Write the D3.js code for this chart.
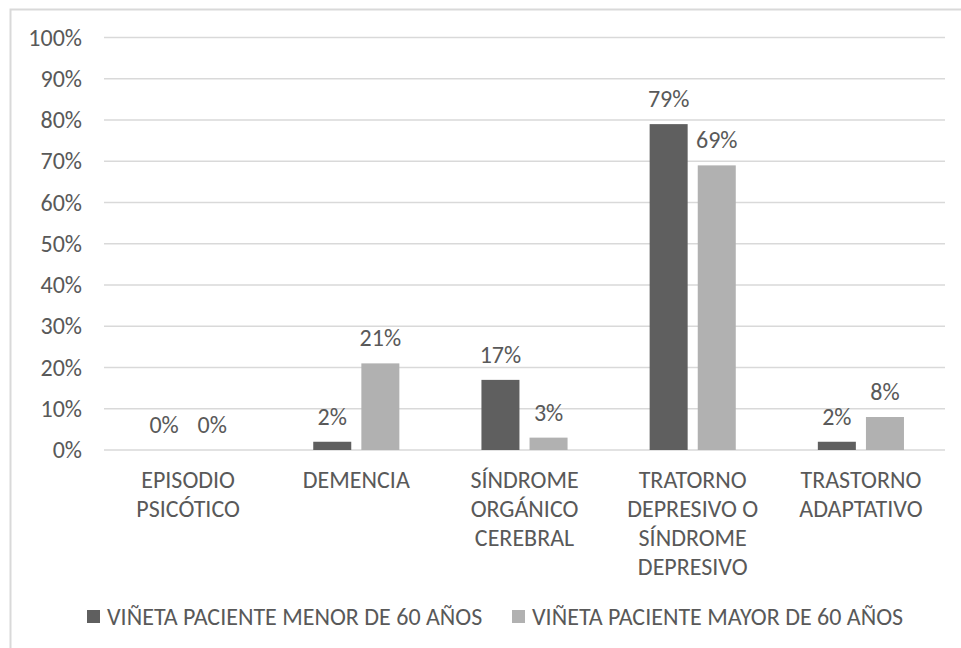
<!DOCTYPE html>
<html>
<head>
<meta charset="utf-8">
<script src="https://cdn.jsdelivr.net/npm/d3@7"></script>
<style>
  body { margin: 0; background: #fff; }
  svg text { font-family: Carlito, "Open Sans", "Noto Sans", sans-serif; fill: #595959; }
</style>
</head>
<body>
<svg id="chart" width="961" height="648"></svg>
<script>
// categories and series
const categories = [
  ["EPISODIO", "PSICÓTICO"],
  ["DEMENCIA"],
  ["SÍNDROME", "ORGÁNICO", "CEREBRAL"],
  ["TRATORNO", "DEPRESIVO O", "SÍNDROME", "DEPRESIVO"],
  ["TRASTORNO", "ADAPTATIVO"]
];
const seriesNames = ["VIÑETA PACIENTE MENOR DE 60 AÑOS", "VIÑETA PACIENTE MAYOR DE 60 AÑOS"];
const menor60 = [0, 2, 17, 79, 2];
const mayor60 = [0, 21, 3, 69, 8];
const yTicks = [0, 10, 20, 30, 40, 50, 60, 70, 80, 90, 100];
const colors = ["#5f5f5f", "#b1b1b1"];

const svg = d3.select("#chart");
const fontSize = 24;

// outer border of the chart box
svg.append("rect")
  .attr("x", 10.5).attr("y", 9.5)
  .attr("width", 970).attr("height", 660)
  .attr("fill", "none")
  .attr("stroke", "#d9d9d9")
  .attr("stroke-width", 2);

const plotLeft = 104, plotRight = 945, plotTop = 37.5, plotBottom = 450;

const x = d3.scaleBand()
  .domain(d3.range(categories.length))
  .range([plotLeft, plotRight]);

const y = d3.scaleLinear()
  .domain([0, 100])
  .range([plotBottom, plotTop]);

// gridlines
svg.append("g")
  .selectAll("line")
  .data(yTicks)
  .enter()
  .append("line")
  .attr("x1", plotLeft).attr("x2", plotRight)
  .attr("y1", d => y(d)).attr("y2", d => y(d))
  .attr("stroke", "#d9d9d9")
  .attr("stroke-width", 1.5);

// y axis labels
const yAxis = d3.axisLeft(y)
  .tickValues(yTicks)
  .tickFormat(d => d + "%")
  .tickSize(0)
  .tickPadding(22);
const yg = svg.append("g")
  .attr("transform", "translate(" + plotLeft + ",0)")
  .call(yAxis);
yg.select(".domain").remove();
yg.attr("font-family", null).attr("font-size", null);
yg.selectAll("text")
  .attr("font-size", fontSize);

// bars
const barW = x.bandwidth() * 0.226;
const barGap = x.bandwidth() * 0.06;
const series = [menor60, mayor60];
series.forEach(function(vals, s) {
  const offset = s === 0 ? -(barGap / 2 + barW) : barGap / 2;
  const g = svg.append("g");
  g.selectAll("rect")
    .data(vals)
    .enter()
    .append("rect")
    .attr("x", (d, i) => x(i) + x.bandwidth() / 2 + offset)
    .attr("y", d => y(d))
    .attr("width", barW)
    .attr("height", d => plotBottom - y(d))
    .attr("fill", colors[s]);
  g.selectAll("text")
    .data(vals)
    .enter()
    .append("text")
    .attr("x", (d, i) => x(i) + x.bandwidth() / 2 + offset + barW / 2)
    .attr("y", d => y(d) - 17)
    .attr("text-anchor", "middle")
    .attr("font-size", fontSize)
    .text(d => d + "%");
});

// category labels
const cat = svg.append("g")
  .selectAll("text")
  .data(categories)
  .enter()
  .append("text")
  .attr("text-anchor", "middle")
  .attr("font-size", fontSize)
  .attr("transform", (d, i) => "translate(" + (x(i) + x.bandwidth() / 2) + ",488)");
cat.selectAll("tspan")
  .data(d => d)
  .enter()
  .append("tspan")
  .attr("x", 0)
  .attr("y", (d, i) => i * 29)
  .text(d => d);

// legend
const legendX = [87, 512];
const leg = svg.append("g")
  .selectAll("g")
  .data(seriesNames)
  .enter()
  .append("g")
  .attr("transform", (d, i) => "translate(" + legendX[i] + ",617)");
leg.append("rect")
  .attr("x", 0).attr("y", -7)
  .attr("width", 13).attr("height", 13)
  .attr("fill", (d, i) => colors[i]);
leg.append("text")
  .attr("x", 20).attr("y", 8)
  .attr("font-size", fontSize)
  .text(d => d);
</script>
</body>
</html>
